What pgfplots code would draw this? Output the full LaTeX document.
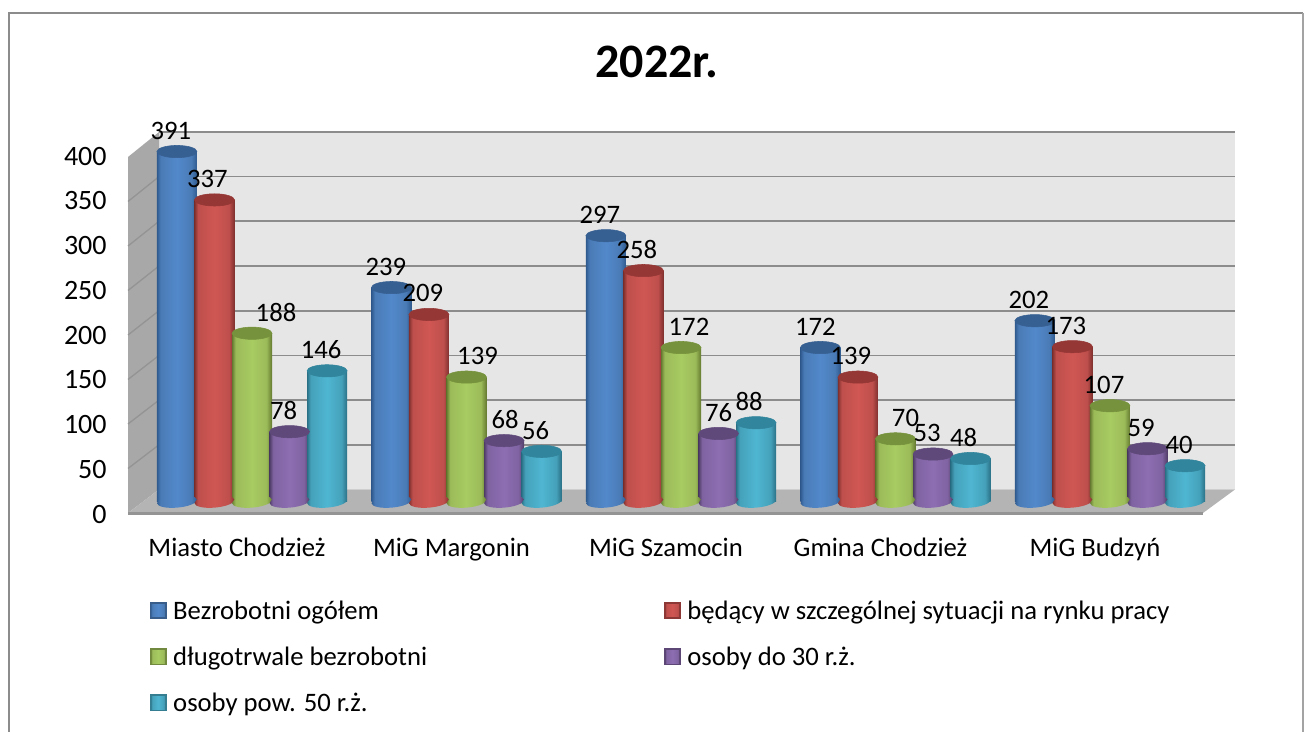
\documentclass[border=0pt]{standalone}
\usepackage{fontspec}
\setmainfont{Carlito}
\usepackage{pgfplots}
\usepackage{pgfplotstable}
\pgfplotsset{compat=1.18}
\definecolor{wallback}{HTML}{E6E6E6}
\definecolor{wallside}{HTML}{A8A8A8}
\definecolor{floorc}{HTML}{B4B4B4}
\definecolor{gridc}{HTML}{8C8C8C}
% name, edge dark, mid, centre, top, legend edge
\newcommand\defcyl[6]{%
  \definecolor{#1e}{HTML}{#2}\definecolor{#1m}{HTML}{#3}\definecolor{#1c}{HTML}{#4}\definecolor{#1t}{HTML}{#5}\definecolor{#1l}{HTML}{#6}%
  \pgfdeclarehorizontalshading{cyl#1}{100bp}{color(0bp)=(#1e);color(25bp)=(#1e);color(29.5bp)=(#1m);color(50bp)=(#1c);color(68bp)=(#1m);color(75bp)=(#1e);color(100bp)=(#1e)}%
  \pgfdeclareplotmark{top#1}{\fill[#1t,rotate=7] (0pt,0pt) ellipse (15pt and 4.6pt);}%
  \pgfdeclareplotmark{bot#1}{%
    \pgfpathellipse{\pgfpointorigin}{\pgfqpoint{14.94pt}{1.31pt}}{\pgfqpoint{-0.4pt}{4.58pt}}%
    \pgfshadepath{cyl#1}{0}\pgfusepath{discard}}%
}
\defcyl{blue}{2F5A8E}{4A7BB6}{5289CB}{376092}{385D8A}
\defcyl{red}{7F302E}{BE4F4C}{D05753}{953735}{8C3836}
\defcyl{green}{64792F}{9BBB59}{A8CB62}{76923C}{71893F}
\defcyl{purple}{4F3C66}{7F63A1}{8D6EB2}{5F497A}{5C4776}
\defcyl{teal}{2A7186}{45A1BA}{4FB6D2}{31859C}{357D91}
\pgfplotstableread{
i y dx
0 391 -6
1 239 -5.5
2 297 -6
3 172 -5
4 202 -6
}\tblblue
\pgfplotstableread{
i y dx
0 337 -7
1 209 -6
2 258 -6.5
3 139 -7
4 173 -6.5
}\tblred
\pgfplotstableread{
i y dx
0 188 24
1 139 11
2 172 8
3 70 10
4 107 -6
}\tblgreen
\pgfplotstableread{
i y dx
0 78 -6
1 68 1
2 76 0
3 53 -6
4 59 -6.5
}\tblpurple
\pgfplotstableread{
i y dx
0 146 -6
1 56 -6
2 88 -7
3 48 -7
4 40 -6
}\tblteal
% one cylinder body: table, colour, x offset, row, next row, extra options
\newcommand\onebar[6]{%
  \addplot[ybar,bar shift=0pt,bar width=30pt,draw=none,shade,shading=cyl#2,#6]
    table[x expr=\thisrow{i}+#3,y=y,skip coords between index={0}{#4},skip coords between index={#5}{9}] {#1};
}
% table, colour, x offset, legend text
\newcommand\cylseries[4]{%
  \addplot[forget plot,only marks,draw=none,mark=bot#2] table[x expr=\thisrow{i}+#3,y expr=0] {#1};
  \onebar{#1}{#2}{#3}{0}{1}{legend image code/.code={\draw[draw=#2l,fill=#2m,line width=1.2pt] (0pt,-5.5pt) rectangle (11.5pt,6pt); \path (0pt,0pt) -- (15pt,0pt);}}
  \addlegendentry{#4}
  \onebar{#1}{#2}{#3}{1}{2}{forget plot}
  \onebar{#1}{#2}{#3}{2}{3}{forget plot}
  \onebar{#1}{#2}{#3}{3}{4}{forget plot}
  \onebar{#1}{#2}{#3}{4}{5}{forget plot}
  \addplot[forget plot,only marks,mark=top#2,
    visualization depends on={\thisrow{dx} \as \labeldx},
    nodes near coords,
    nodes near coords style={anchor=center,text=black,font=\lblfont,xshift=\labeldx*0.75pt,yshift=15.8pt}]
    table[x expr=\thisrow{i}+#3,y=y] {#1};
}
\newcommand\lblfont{\fontsize{20}{24}\selectfont}
\begin{document}
\begin{tikzpicture}
\useasboundingbox (0,0) rectangle (978pt,549pt);
\begin{scope}[x=0.75pt,y=-0.75pt,yshift=549pt]
  \draw[gridc,line width=1.5pt] (9,760) -- (9,13) -- (1303,13);
  \draw[gridc!80,line width=0.8pt] (1303,13) -- (1303,760);
  \fill[wallback] (159,132) rectangle (1235,489.5);
  \fill[wallside] (128,157) -- (159,132) -- (159,489.5) -- (128,513) -- cycle;
  \foreach \k in {1,...,7}{
    \draw[gridc,line width=1.3pt] (159,489.5-44.7*\k) -- (1235,489.5-44.7*\k);
    \draw[gridc!70!wallside,line width=1pt] (128,513-44.5*\k) -- (159,489.5-44.7*\k);
  }
  \draw[gridc,line width=1.5pt] (159,132) -- (1235,132);
  \fill[floorc] (128,513) -- (159,489.5) -- (1235,489.5) -- (1203,513) -- cycle;
  \draw[gridc!80!floorc,line width=1.6pt] (128,513.5) -- (1203,513.5);
\end{scope}
\begin{axis}[
  at={(97.5pt,172.875pt)},anchor=south west,
  scale only axis,width=828.75pt,height=275.2pt,
  xmin=-0.5688,xmax=4.5828,ymin=0,ymax=410,
  clip=false,
  axis line style={draw=none},
  major tick length=0pt,
  tick style={draw=none},
  /pgf/number format/assume math mode=true,
  xtick={0,1,2,3,4},
  xticklabels={Miasto Chodzież,MiG Margonin,MiG Szamocin,Gmina Chodzież,MiG Budzyń},
  ytick={0,50,100,150,200,250,300,350,400},
  tick label style={font=\lblfont},
  yticklabel style={anchor=east,yshift=-9.4pt,xshift=-14pt,font=\fontsize{21}{24}\selectfont},
  xticklabel style={anchor=base,xshift=-11.25pt,yshift=-41.6pt},
  title={\bfseries 2022r.},
  title style={at={(0.477,1)},anchor=center,yshift=48.5pt,font=\fontsize{36}{40}\selectfont},
  legend columns=2,
  legend cell align=left,
  legend style={draw=none,fill=none,at={(0.014,-0.255)},anchor=north west,
    font=\lblfont,row sep=15.2pt,
    /tikz/every even column/.append style={column sep=175.5pt}},
]
\cylseries{\tblblue}{blue}{-0.35}{Bezrobotni ogółem}
\cylseries{\tblred}{red}{-0.175}{będący w szczególnej sytuacji na rynku pracy}
\cylseries{\tblgreen}{green}{0}{długotrwale bezrobotni}
\cylseries{\tblpurple}{purple}{0.175}{osoby do 30 r.ż.}
\cylseries{\tblteal}{teal}{0.35}{osoby pow. 50 r.ż.}
\end{axis}
\end{tikzpicture}
\end{document}
